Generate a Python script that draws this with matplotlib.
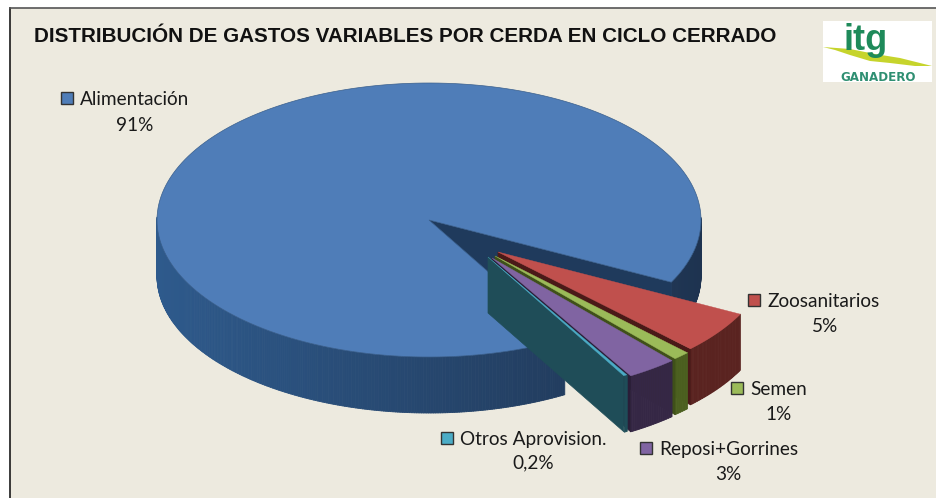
import numpy as np
import matplotlib
matplotlib.use("Agg")
import matplotlib.pyplot as plt
from matplotlib.collections import PolyCollection
from matplotlib.patches import Polygon, Rectangle

categories = ["Alimentación", "Zoosanitarios", "Semen", "Reposi+Gorrines", "Otros Aprovision."]
values = [91, 5, 1, 3, 0.2]
value_labels = ["91%", "5%", "1%", "3%", "0,2%"]
top_colors = ["#4F7DB8", "#C0504D", "#9BBB59", "#8064A2", "#4BACC6"]
side_colors = ["#2B4C74", "#5A2320", "#4C6020", "#352745", "#1F4D58"]
cut_colors = ["#1F3A5C", "#4A1A18", "#3F5019", "#2A1E38", "#1F4D58"]

# pie geometry in image pixels
CX, CY = 429, 220
RX, RY = 272, 137
DEPTH = 56
START = -27
# how far each slice is pulled out of the pie
shifts = [(0, 0), (69, 32), (66, 36), (63, 38), (59, 37)]
label_pos = [(61, 98), (748, 300), (731, 388), (640, 448), (441, 438)]
label_center = [(135, 125), (825, 326), (779, 414), (728, 474), (533, 463)]

BG = "#EDEADF"


def rim(a_deg, dx=0, dy=0):
    a = np.radians(a_deg)
    return CX + dx + RX * np.cos(a), CY + dy - RY * np.sin(a)


def slice_angles():
    # clockwise from START, main slice takes what is left after the small ones
    spans = np.array(values, dtype=float) / sum(values) * 360
    out = []
    a = START
    for s in spans[1:]:
        out.append((a, a - s))
        a -= s
    main = (a, START - 360)
    return [main] + out


def outer_wall(ax, a0, a1, color0, color1, dx=0, dy=0, z=1):
    # a0 > a1, quads from a0 to a1, only the part that faces the viewer
    angs = np.linspace(a0, a1, int(abs(a0 - a1)) * 2 + 2)
    polys = []
    cols = []
    c0 = np.array(matplotlib.colors.to_rgb(color0))
    c1 = np.array(matplotlib.colors.to_rgb(color1))
    for p, q in zip(angs[:-1], angs[1:]):
        mid = np.radians((p + q) / 2)
        if np.sin(mid) > 0.02:
            continue
        x0, y0 = rim(p, dx, dy)
        x1, y1 = rim(q, dx, dy)
        polys.append([(x0, y0), (x1, y1), (x1, y1 + DEPTH), (x0, y0 + DEPTH)])
        t = (np.cos(mid) + 1) / 2
        cols.append(c0 * (1 - t) + c1 * t)
    if polys:
        ax.add_collection(PolyCollection(polys, facecolors=cols, edgecolors=cols, linewidths=0.6, zorder=z))


def top_face(a0, a1, dx=0, dy=0):
    angs = np.linspace(a0, a1, 200)
    pts = [(CX + dx, CY + dy)] + [rim(a, dx, dy) for a in angs]
    return pts


def cut_wall(ax, a, color, dx=0, dy=0, z=2):
    x, y = rim(a, dx, dy)
    ax.add_patch(Polygon([(CX + dx, CY + dy), (x, y), (x, y + DEPTH), (CX + dx, CY + dy + DEPTH)],
                         closed=True, facecolor=color, edgecolor=color, linewidth=0.5, zorder=z))


def draw_logo(ax):
    ax.add_patch(Rectangle((823, 21), 109, 61, facecolor="white", edgecolor="none", zorder=5))
    swoosh_x = np.array([823, 850, 875, 900, 932, 915, 890, 870, 850, 835])
    swoosh_y = np.array([47, 49, 54, 58, 66, 66, 63, 61, 55, 50])
    ax.add_patch(Polygon(np.column_stack([swoosh_x, swoosh_y]), closed=True, facecolor="#C6D42C",
                         edgecolor="none", zorder=6))
    ax.text(866, 40, "itg", fontsize=26, fontweight="bold", color="#1E8A5A", ha="center", va="center",
            family="Liberation Sans", zorder=7)
    ax.text(878, 77.5, "GANADERO", fontsize=8.6, fontweight="bold", color="#2F8F72", ha="center", va="center",
            family="DejaVu Sans", zorder=7)


def plot_pie():
    fig = plt.figure(figsize=(9.36, 4.98), dpi=100)
    ax = fig.add_axes([0, 0, 1, 1])
    ax.set_xlim(0, 936)
    ax.set_ylim(498, 0)
    ax.axis("off")

    # panel runs off the right and bottom of the picture, only two edges show
    ax.add_patch(Rectangle((9.5, 7.5), 930, 494, facecolor=BG, edgecolor="none", zorder=0))
    ax.plot([9.5, 9.5], [7.5, 498], color="#1A1A1A", linewidth=1.2, zorder=0.5)
    ax.plot([9.5, 936], [7.5, 7.5], color="#555555", linewidth=1.2, zorder=0.5)

    angles = slice_angles()

    # main slice
    a0, a1 = angles[0]
    outer_wall(ax, a0, a1, "#2E5A8C", "#1E3350", z=1)
    cut_wall(ax, START, cut_colors[0], z=1.5)
    ax.add_patch(Polygon(top_face(a0, a1), closed=True, facecolor=top_colors[0], edgecolor="#3A5F8C",
                         linewidth=0.5, zorder=2))

    # exploded slices, back to front
    for i in range(1, len(values)):
        a0, a1 = angles[i]
        dx, dy = shifts[i]
        z = 3 + i
        outer_wall(ax, a0, a1, side_colors[i], side_colors[i], dx, dy, z=z)
        cut_wall(ax, a1, cut_colors[i], dx, dy, z=z)
        ax.add_patch(Polygon(top_face(a0, a1, dx, dy), closed=True, facecolor=top_colors[i],
                             edgecolor=top_colors[i], linewidth=0.3, zorder=z + 0.5))

    # labels
    for i, name in enumerate(categories):
        x, y = label_pos[i]
        ax.add_patch(Rectangle((x, y - 6), 12, 12, facecolor=top_colors[i], edgecolor="#333333",
                               linewidth=1, zorder=8))
        ax.text(x + 19, y + 1, name, fontsize=13.7, family="Lato", color="#1A1A1A", va="center", zorder=8)
        cx, cy = label_center[i]
        ax.text(cx, cy, value_labels[i], fontsize=13.7, family="Lato", color="#1A1A1A", ha="center", va="center",
                zorder=8)

    ax.text(34, 36, "DISTRIBUCIÓN DE GASTOS VARIABLES POR CERDA EN CICLO CERRADO", fontsize=14.85,
            fontweight="bold", family="Liberation Sans", color="#111111", va="center", zorder=8)
    draw_logo(ax)

    fig.savefig("out.png", dpi=100)
    plt.close(fig)


if __name__ == "__main__":
    plot_pie()
